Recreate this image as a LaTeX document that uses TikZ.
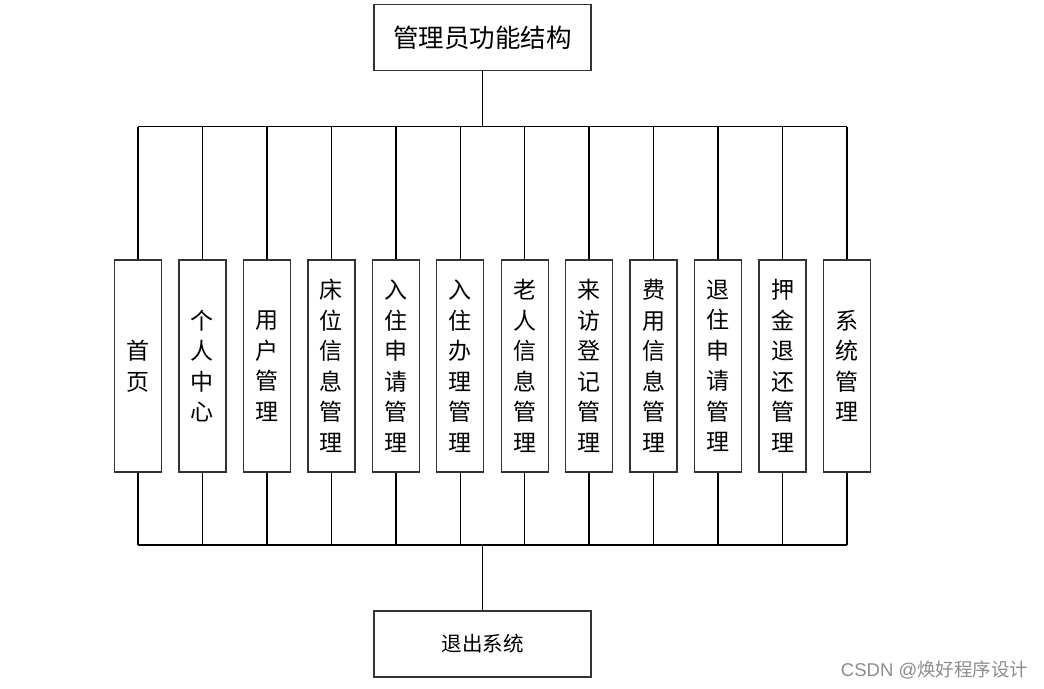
\documentclass[tikz,border=0pt]{standalone}
\usepackage{fontspec}
\newfontfamily\cjk{Noto Sans CJK SC}
\newfontfamily\latinsans{Liberation Sans}
\begin{document}
\begin{tikzpicture}
			[
				x = 1pt, y = -1pt,
				line width = 1.4pt,
				headbox/.style = {draw = black!80, fill = white, minimum width = 217pt, minimum height = 66pt, font = \cjk\fontsize{25.5}{28}\selectfont},
				itembox/.style = {draw = black!80, fill = white, minimum width = 47pt, minimum height = 212pt, inner sep = 0pt, align = center, font = \cjk\fontsize{23}{30.5}\selectfont}
			]
			\useasboundingbox (0,0) rectangle (1044,688);
			\node [headbox] (admin) at (482.5,37.5) {管理员功能结构};
			\node [headbox, font = \cjk\fontsize{20.5}{24}\selectfont] (logout) at (482.5,644) {退出系统};
			\coordinate (tbus) at (482.5,126.5);
			\coordinate (bbus) at (482.5,545);
			\foreach \i/\t in {1/{首\\页}, 2/{个\\人\\中\\心}, 3/{用\\户\\管\\理}, 4/{床\\位\\信\\息\\管\\理},
				5/{入\\住\\申\\请\\管\\理}, 6/{入\\住\\办\\理\\管\\理}, 7/{老\\人\\信\\息\\管\\理},
				8/{来\\访\\登\\记\\管\\理}, 9/{费\\用\\信\\息\\管\\理}, 10/{退\\住\\申\\请\\管\\理},
				11/{押\\金\\退\\还\\管\\理}, 12/{系\\统\\管\\理}}
			{
				\node [itembox] (m\i) at ({138 + (\i - 1) * 64.45}, 366) {\t};
				\draw (m\i.north) -- (m\i.north |- tbus);
				\draw (m\i.south) -- (m\i.south |- bbus);
			}
			\draw (admin) -- (tbus);
			\draw (m1.north |- tbus) -- (m12.north |- tbus);
			\draw (m1.south |- bbus) -- (m12.south |- bbus);
			\draw (bbus) -- (logout);
			\node [text = black!45, font = \fontsize{18.5}{22}\selectfont, anchor = east, inner sep = 0pt] (mark) at (1029,670) {\latinsans CSDN @\cjk 焕好程序设计};
			\end{tikzpicture}
\end{document}
